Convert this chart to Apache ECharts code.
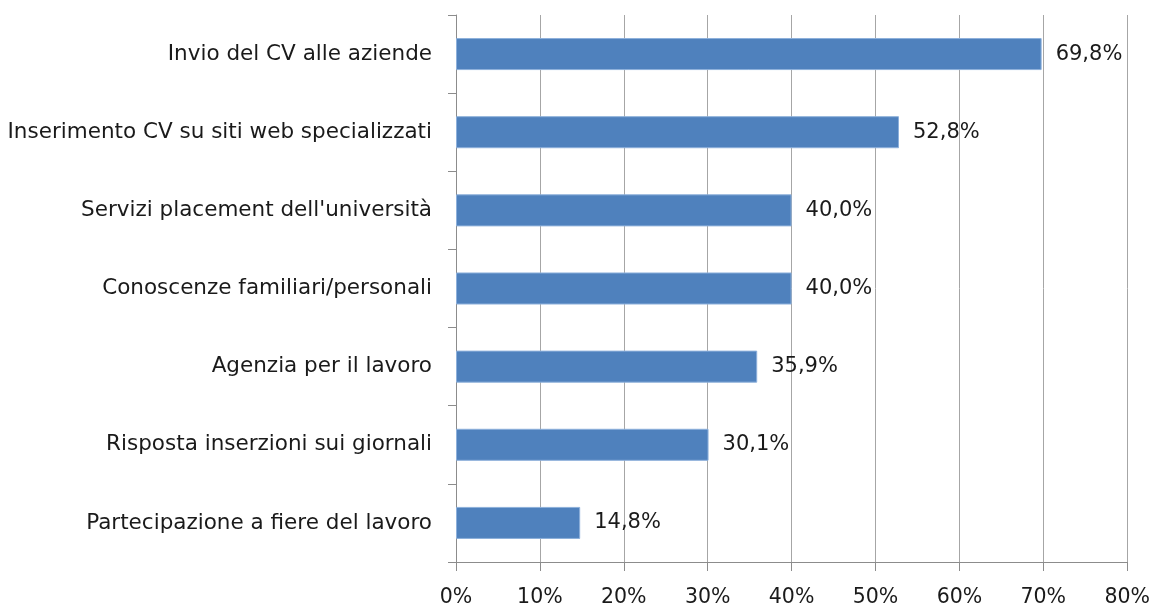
<!DOCTYPE html>
<html><head><meta charset="utf-8">
<script src="https://cdn.jsdelivr.net/npm/echarts@6/dist/echarts.min.js"></script>
<style>html,body{margin:0;padding:0;background:#fff}#c{width:1153px;height:608px}</style>
</head><body><div id="c"></div>
<script>
const categories = [
  "Invio del CV alle aziende",
  "Inserimento CV su siti web specializzati",
  "Servizi placement dell'università",
  "Conoscenze familiari/personali",
  "Agenzia per il lavoro",
  "Risposta inserzioni sui giornali",
  "Partecipazione a fiere del lavoro"
];
const values = [69.8, 52.8, 40.0, 40.0, 35.9, 30.1, 14.8];
const xTicks = [0, 10, 20, 30, 40, 50, 60, 70, 80];

const font = "'DejaVu Sans', sans-serif";
const chart = echarts.init(document.getElementById('c'));
chart.setOption({
  animation: false,
  grid: { left: 456, right: 25, top: 15, bottom: 45, containLabel: false },
  xAxis: {
    type: 'value', min: xTicks[0], max: xTicks[xTicks.length - 1], interval: 10,
    axisLine: { show: true, lineStyle: { color: '#8c8c8c', width: 1 } },
    axisTick: { show: true, length: 9, lineStyle: { color: '#8c8c8c' } },
    splitLine: { show: true, lineStyle: { color: '#a6a6a6', width: 1 } },
    axisLabel: { formatter: v => v + '%', color: '#1a1a1a', fontSize: 20.5, fontFamily: font, margin: 25 }
  },
  yAxis: {
    type: 'category', data: categories, inverse: true,
    axisLine: { show: true, lineStyle: { color: '#8c8c8c', width: 1 } },
    axisTick: { show: true, length: 8, lineStyle: { color: '#8c8c8c' } },
    axisLabel: { color: '#1a1a1a', fontSize: 21.5, fontFamily: font, margin: 24 }
  },
  series: [{
    type: 'bar', data: values, barWidth: '41%',
    itemStyle: { color: '#4F81BD', borderColor: '#8DB0DB', borderWidth: 1 },
    label: {
      show: true, position: 'right', distance: 14,
      formatter: p => p.value.toFixed(1).replace('.', ',') + '%',
      color: '#1a1a1a', fontSize: 21, fontFamily: font
    }
  }]
});
</script></body></html>
